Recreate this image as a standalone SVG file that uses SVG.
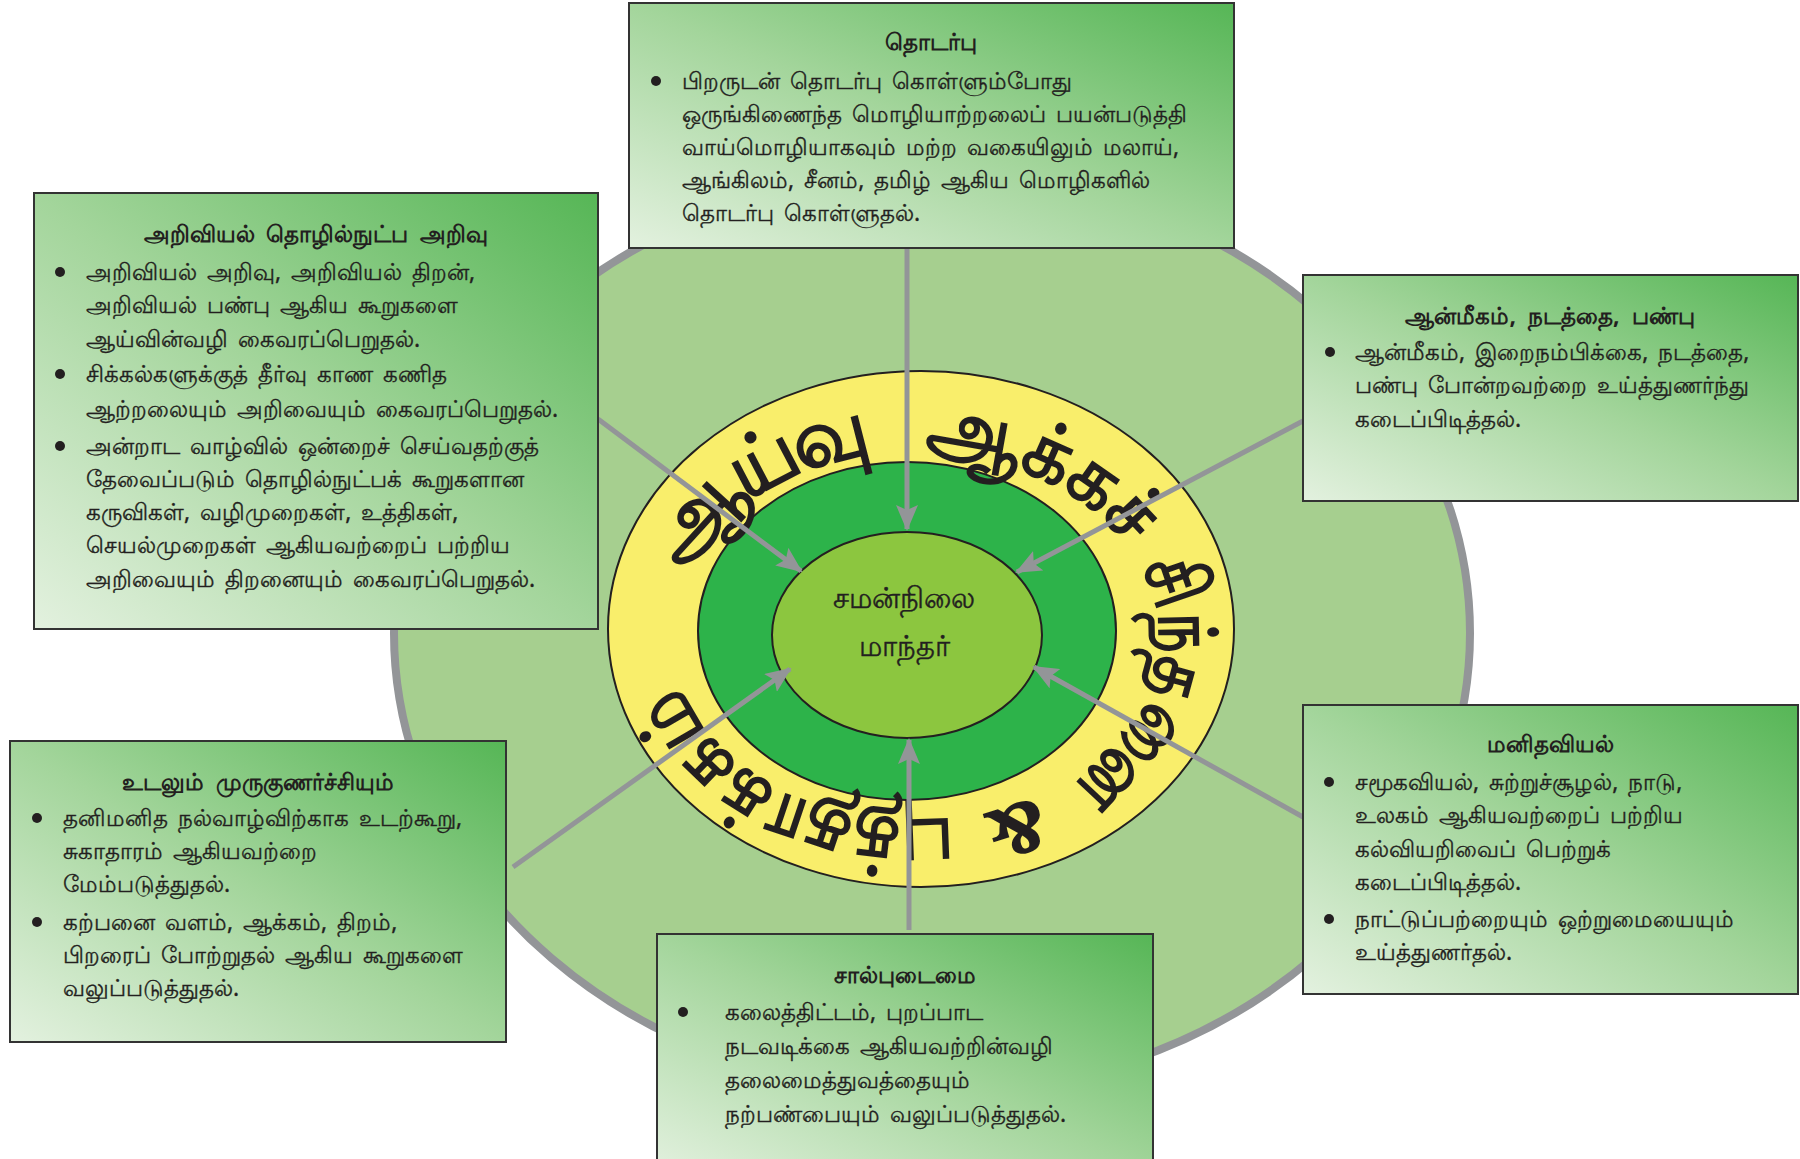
<svg xmlns="http://www.w3.org/2000/svg" width="1800" height="1159" viewBox="0 0 1800 1159">
  <defs>
    <linearGradient id="boxg" x1="0" y1="1" x2="1" y2="0">
      <stop offset="0" stop-color="#e3f1df"/>
      <stop offset="0.5" stop-color="#a3d59b"/>
      <stop offset="1" stop-color="#56b656"/>
    </linearGradient>
    <marker id="ah" markerUnits="userSpaceOnUse" markerWidth="26" markerHeight="22" refX="24" refY="11" orient="auto">
      <path d="M0,0 L26,11 L0,22 L5,11 Z" fill="#939598"/>
    </marker>
    <path id="arc1" d="M 685.7,573.1 A 244,184 0 0 1 881.0,453.8"/>
    <path id="arc2a" d="M 923.5,452.1 A 244,184 0 0 1 1132.4,552.5"/>
    <path id="arc2b" d="M 1141.2,567.1 A 244,184 0 0 1 1065.2,781.0"/>
    <path id="arc3" d="M 1047.9,790.3 A 244,184 0 0 1 969.9,815.3"/>
    <path id="arc4" d="M 953.2,817.7 A 244,184 0 0 1 676.3,674.3"/>
  </defs>
  <style>
    .box { fill: url(#boxg); stroke: #333333; stroke-width: 2; }
    .ttl { font-family: "Noto Sans", "DejaVu Sans", sans-serif; font-weight: bold; font-size: 23px; fill: #231f20; text-anchor: middle; word-spacing: 6px; }
    .txt { font-family: "Noto Sans", "DejaVu Sans", sans-serif; font-size: 23px; fill: #231f20; stroke: #231f20; stroke-width: 0.35; word-spacing: 4px; }
    .bul { fill: #231f20; }
    .con { stroke: #939598; stroke-width: 5; fill: none; marker-end: url(#ah); }
    .ringtxt { font-family: "Noto Serif", "DejaVu Serif", serif; font-weight: 900; font-size: 80px; fill: #231f20; }
    .amp { font-size: 70px; }
    .ctr { font-family: "Noto Sans", "DejaVu Sans", sans-serif; font-size: 29px; fill: #231f20; stroke: #231f20; stroke-width: 0.4; text-anchor: middle; }
  </style>
  <rect width="1800" height="1159" fill="#ffffff"/>

  <g id="rings">
    <ellipse cx="932" cy="633" rx="538" ry="460" fill="#a6cf8f" stroke="#939598" stroke-width="8"/>
    <ellipse cx="921" cy="629" rx="313" ry="258" fill="#f9ee6b" stroke="#231f20" stroke-width="2"/>
    <ellipse cx="907" cy="631" rx="209" ry="169" fill="#2db34a" stroke="#231f20" stroke-width="2"/>
    <text class="ringtxt"><textPath href="#arc1" textLength="232" lengthAdjust="spacing">ஆய்வு</textPath></text>
    <text class="ringtxt"><textPath href="#arc2a" textLength="232" lengthAdjust="spacingAndGlyphs">ஆக்கச்</textPath></text>
    <text class="ringtxt"><textPath href="#arc2b" textLength="250" lengthAdjust="spacingAndGlyphs">சிந்தனை</textPath></text>
    <text class="ringtxt amp"><textPath href="#arc3" startOffset="50%" text-anchor="middle">&amp;</textPath></text>
    <text class="ringtxt"><textPath href="#arc4" textLength="326" lengthAdjust="spacingAndGlyphs">புத்தாக்கம்</textPath></text>
  </g>

  <g id="center">
    <ellipse cx="907" cy="635" rx="135" ry="103" fill="#8cc63f" stroke="#231f20" stroke-width="2"/>
    <text class="ctr" x="904" y="608">சமன்நிலை<tspan x="904" dy="48">மாந்தர்</tspan></text>
  </g>

  <g id="connectors">
    <line class="con" x1="907" y1="248" x2="907" y2="529"/>
    <line class="con" x1="598" y1="419" x2="801" y2="571"/>
    <line class="con" x1="1303" y1="421" x2="1017" y2="572"/>
    <line class="con" x1="513" y1="867" x2="790" y2="669"/>
    <line class="con" x1="1303" y1="817" x2="1034" y2="667"/>
    <line class="con" x1="909" y1="930" x2="909" y2="740"/>
  </g>

  <g id="node-top">
    <rect class="box" x="629" y="3" width="605" height="245"/>
    <text class="ttl" x="931" y="50">தொடர்பு</text>
    <circle class="bul" cx="656" cy="81" r="5"/>
    <text class="txt" x="682" y="89">பிறருடன் தொடர்பு கொள்ளும்போது</text>
    <text class="txt" x="682" y="122">ஒருங்கிணைந்த மொழியாற்றலைப் பயன்படுத்தி</text>
    <text class="txt" x="682" y="155">வாய்மொழியாகவும் மற்ற வகையிலும் மலாய்,</text>
    <text class="txt" x="682" y="188">ஆங்கிலம், சீனம், தமிழ் ஆகிய மொழிகளில்</text>
    <text class="txt" x="682" y="221">தொடர்பு கொள்ளுதல்.</text>
  </g>

  <g id="node-science">
    <rect class="box" x="34" y="193" width="564" height="436"/>
    <text class="ttl" x="316" y="242">அறிவியல் தொழில்நுட்ப அறிவு</text>
    <circle class="bul" cx="60" cy="272" r="5"/>
    <text class="txt" x="86" y="280">அறிவியல் அறிவு, அறிவியல் திறன்,</text>
    <text class="txt" x="86" y="313">அறிவியல் பண்பு ஆகிய கூறுகளை</text>
    <text class="txt" x="86" y="347">ஆய்வின்வழி கைவரப்பெறுதல்.</text>
    <circle class="bul" cx="60" cy="374" r="5"/>
    <text class="txt" x="86" y="382">சிக்கல்களுக்குத் தீர்வு காண கணித</text>
    <text class="txt" x="86" y="417">ஆற்றலையும் அறிவையும் கைவரப்பெறுதல்.</text>
    <circle class="bul" cx="60" cy="446" r="5"/>
    <text class="txt" x="86" y="454">அன்றாட வாழ்வில் ஒன்றைச் செய்வதற்குத்</text>
    <text class="txt" x="86" y="487">தேவைப்படும் தொழில்நுட்பக் கூறுகளான</text>
    <text class="txt" x="86" y="520">கருவிகள், வழிமுறைகள், உத்திகள்,</text>
    <text class="txt" x="86" y="553">செயல்முறைகள் ஆகியவற்றைப் பற்றிய</text>
    <text class="txt" x="86" y="587">அறிவையும் திறனையும் கைவரப்பெறுதல்.</text>
  </g>

  <g id="node-spiritual">
    <rect class="box" x="1303" y="275" width="495" height="226"/>
    <text class="ttl" x="1550" y="324">ஆன்மீகம், நடத்தை, பண்பு</text>
    <circle class="bul" cx="1330" cy="352" r="5"/>
    <text class="txt" x="1355" y="360">ஆன்மீகம், இறைநம்பிக்கை, நடத்தை,</text>
    <text class="txt" x="1355" y="393">பண்பு போன்றவற்றை உய்த்துணர்ந்து</text>
    <text class="txt" x="1355" y="427">கடைப்பிடித்தல்.</text>
  </g>

  <g id="node-physical">
    <rect class="box" x="10" y="741" width="496" height="301"/>
    <text class="ttl" x="258" y="790">உடலும் முருகுணர்ச்சியும்</text>
    <circle class="bul" cx="37" cy="818" r="5"/>
    <text class="txt" x="63" y="826">தனிமனித நல்வாழ்விற்காக உடற்கூறு,</text>
    <text class="txt" x="63" y="859">சுகாதாரம் ஆகியவற்றை</text>
    <text class="txt" x="63" y="892">மேம்படுத்துதல்.</text>
    <circle class="bul" cx="37" cy="922" r="5"/>
    <text class="txt" x="63" y="930">கற்பனை வளம், ஆக்கம், திறம்,</text>
    <text class="txt" x="63" y="963">பிறரைப் போற்றுதல் ஆகிய கூறுகளை</text>
    <text class="txt" x="63" y="996">வலுப்படுத்துதல்.</text>
  </g>

  <g id="node-humanities">
    <rect class="box" x="1303" y="705" width="495" height="289"/>
    <text class="ttl" x="1550" y="752">மனிதவியல்</text>
    <circle class="bul" cx="1329" cy="782" r="5"/>
    <text class="txt" x="1355" y="790">சமூகவியல், சுற்றுச்சூழல், நாடு,</text>
    <text class="txt" x="1355" y="823">உலகம் ஆகியவற்றைப் பற்றிய</text>
    <text class="txt" x="1355" y="857">கல்வியறிவைப் பெற்றுக்</text>
    <text class="txt" x="1355" y="890">கடைப்பிடித்தல்.</text>
    <circle class="bul" cx="1329" cy="919" r="5"/>
    <text class="txt" x="1355" y="927">நாட்டுப்பற்றையும் ஒற்றுமையையும்</text>
    <text class="txt" x="1355" y="960">உய்த்துணர்தல்.</text>
  </g>

  <g id="node-character">
    <rect class="box" x="657" y="934" width="496" height="240"/>
    <text class="ttl" x="905" y="983">சால்புடைமை</text>
    <circle class="bul" cx="683" cy="1012" r="5"/>
    <text class="txt" x="725" y="1020">கலைத்திட்டம், புறப்பாட</text>
    <text class="txt" x="725" y="1054">நடவடிக்கை ஆகியவற்றின்வழி</text>
    <text class="txt" x="725" y="1088">தலைமைத்துவத்தையும்</text>
    <text class="txt" x="725" y="1122">நற்பண்பையும் வலுப்படுத்துதல்.</text>
  </g>
</svg>
